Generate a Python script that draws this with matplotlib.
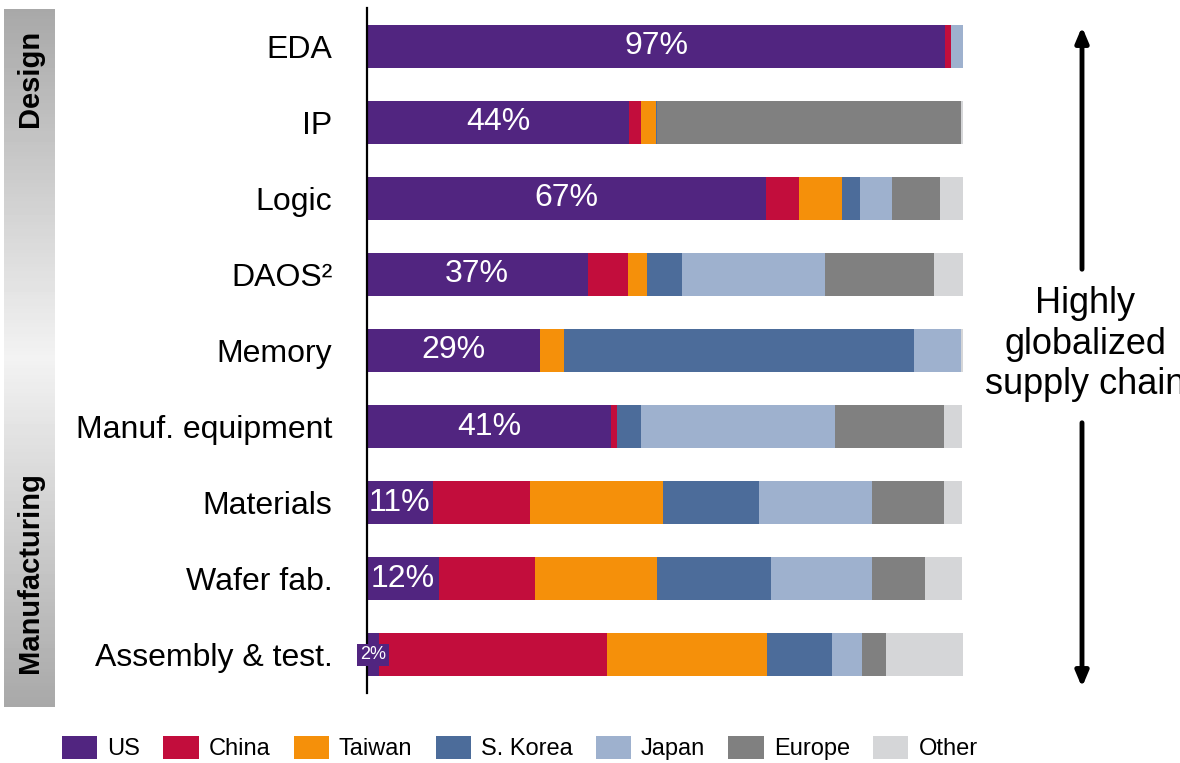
import numpy as np
import matplotlib.pyplot as plt
from matplotlib.patches import Patch

plt.rcParams['font.family'] = ['Liberation Sans', 'DejaVu Sans']

# Share of value added by region (%)
categories = ["EDA", "IP", "Logic", "DAOS\u00b2", "Memory", "Manuf. equipment",
              "Materials", "Wafer fab.", "Assembly & test."]
regions = ["US", "China", "Taiwan", "S. Korea", "Japan", "Europe", "Other"]
us = [97, 44, 67, 37, 29, 41, 11, 12, 2]
china = [1, 2, 5.4, 6.8, 0, 1, 16.3, 16.2, 38.2]
taiwan = [0, 2.5, 7.3, 3.1, 4, 0, 22.4, 20.5, 26.9]
korea = [0, 0.2, 3.1, 5.9, 58.8, 4, 16.1, 19.1, 11]
japan = [2, 0, 5.3, 24.1, 7.9, 32.5, 19, 17, 5]
europe = [0, 51, 8, 18.3, 0, 18.3, 12, 8.9, 4]
other = [0, 0.3, 4, 4.8, 0.6, 3, 3, 6.1, 13]

colors = ["#512580", "#c20d3c", "#f5900a", "#4c6c9a", "#9eb1ce", "#808080", "#d5d6d8"]

series = [us, china, taiwan, korea, japan, europe, other]

fig = plt.figure(figsize=(11.8, 7.63), dpi=100)
ax = fig.add_axes([367 / 1180, 1 - 693 / 763, 596 / 1180, 685 / 763])

y = np.arange(len(categories))
left = np.zeros(len(categories))
for vals, col, name in zip(series, colors, regions):
	vals = np.array(vals, dtype=float)
	ax.barh(y, vals, left=left, height=0.565, color=col, label=name, linewidth=0)
	left += vals

# US share labels
for i, v in enumerate(us):
	if v < 5:
		ax.text(v / 2, i, f"{v}%", ha="center", va="center", color="white", fontsize=13,
			bbox=dict(boxstyle="square,pad=0.15", fc=colors[0], ec="none"))
	else:
		ax.text(v / 2, i, f"{v}%", ha="center", va="center", color="white", fontsize=23)

ax.set_xlim(0, 100)
ax.set_ylim(len(categories) - 0.5, -0.5)
ax.set_yticks(y)
ax.set_yticklabels(categories, fontsize=23)
ax.tick_params(axis="y", length=0, pad=25)
ax.set_xticks([])
for s in ["top", "right", "bottom"]:
	ax.spines[s].set_visible(False)
ax.spines["left"].set_linewidth(1.6)

# grey gradient band on the left with stage names
bax = fig.add_axes([4 / 1180, 1 - 707 / 763, 51 / 1180, 698 / 763])
n = 100
grad = np.concatenate([np.linspace(0.66, 0.95, n), np.linspace(0.95, 0.66, n)])
bax.imshow(grad[:, None], cmap="gray", vmin=0, vmax=1, aspect="auto", extent=(0, 1, 1, 0))
bax.set_axis_off()
fig.text(30 / 1180, 1 - 78 / 763, "Design", rotation=90, ha="center", va="center",
	fontsize=21, fontweight="bold")
fig.text(30 / 1180, 1 - 573 / 763, "Manufacturing", rotation=90, ha="center", va="center",
	fontsize=21, fontweight="bold")

# double arrow with annotation
arrow_x = 1082 / 1180
fig.add_artist(plt.Annotation("", xy=(arrow_x, 1 - 24 / 763), xytext=(arrow_x, 1 - 272 / 763),
	xycoords="figure fraction", textcoords="figure fraction",
	arrowprops=dict(arrowstyle="-|>,head_length=0.9,head_width=0.38", lw=3.5, color="black")))
fig.add_artist(plt.Annotation("", xy=(arrow_x, 1 - 690 / 763), xytext=(arrow_x, 1 - 420 / 763),
	xycoords="figure fraction", textcoords="figure fraction",
	arrowprops=dict(arrowstyle="-|>,head_length=0.9,head_width=0.38", lw=3.5, color="black")))
fig.text(1085 / 1180, 1 - 344 / 763, "Highly\nglobalized\nsupply chain", ha="center", va="center",
	fontsize=26, linespacing=1.2)

handles = [Patch(facecolor=c, edgecolor="none", label=r) for c, r in zip(colors, regions)]
fig.legend(handles=handles, loc="center left", bbox_to_anchor=(62 / 1180, 1 - 748 / 763),
	ncol=7, frameon=False, fontsize=17, handlelength=1.5, handleheight=1.15,
	handletextpad=0.42, columnspacing=0.98, borderpad=0, borderaxespad=0)

fig.savefig("out.png", dpi=100)
